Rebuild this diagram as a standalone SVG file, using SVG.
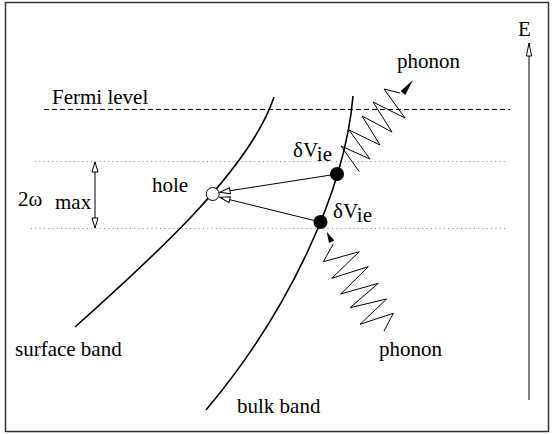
<svg xmlns="http://www.w3.org/2000/svg" width="553" height="434" viewBox="0 0 553 434" font-family="'Liberation Serif', 'Times New Roman', serif" font-size="21">
<style>
  text { font-family: 'Liberation Serif', 'Times New Roman', serif; font-size: 21px; fill: #000; }
  .band { fill: none; stroke: #000; stroke-width: 1.6; }
  .thin { fill: none; stroke: #000; stroke-width: 1; }
  .dot { fill: none; stroke: #8a8a8a; stroke-width: 1; stroke-dasharray: 1 3.3; }
  .dash { fill: none; stroke: #000; stroke-width: 1.2; stroke-dasharray: 5 3; }
</style>
<defs>
  <marker id="open" markerUnits="userSpaceOnUse" markerWidth="14" markerHeight="10" refX="11" refY="5" orient="auto-start-reverse" viewBox="0 0 14 10">
    <path d="M1,2 L11,5 L1,8 Z" fill="#fff" stroke="#000" stroke-width="1"/>
  </marker>
  <marker id="openE" markerUnits="userSpaceOnUse" markerWidth="16" markerHeight="10" refX="14" refY="5" orient="auto" viewBox="0 0 16 10">
    <path d="M1,2.4 L14,5 L1,7.6 Z" fill="#fff" stroke="#000" stroke-width="1"/>
  </marker>
</defs>
<rect x="5.5" y="2.5" width="543" height="429" fill="#fff" stroke="#333" stroke-width="1.5"/>

<g id="fermi-level">
  <line class="dash" x1="44" y1="109.5" x2="510" y2="109.5"/>
  <text x="52" y="104">Fermi level</text>
</g>
<g id="levels">
  <line class="dot" x1="35" y1="161.5" x2="505" y2="161.5"/>
  <line class="dot" x1="31" y1="228.5" x2="505" y2="228.5"/>
</g>
<g id="surface-band">
  <path class="band" d="M274,97 C250,170 150,260 75,327"/>
  <text x="15" y="356">surface band</text>
</g>
<g id="bulk-band">
  <path class="band" d="M353,96 C345,190 290,310 206,410"/>
  <text x="237" y="413">bulk band</text>
</g>
<g id="energy-axis">
  <line class="thin" x1="529" y1="400" x2="529" y2="43" stroke-width="1.4" marker-end="url(#openE)"/>
  <text x="518" y="36">E</text>
</g>
<g id="two-omega-max">
  <line class="thin" x1="95" y1="162" x2="95" y2="228" marker-start="url(#open)" marker-end="url(#open)"/>
  <text x="18" y="206">2ω</text>
  <text x="55" y="209">max</text>
</g>
<g id="phonon-top">
  <polyline class="thin" points="359.3,171.7 341,146 370,159 349,130 380,145 362,116 392,132 373,102 405,118 384,89 400,93"/>
  <polygon points="413,80 405.3,95 400.7,91" fill="#000"/>
  <text x="397" y="68">phonon</text>
</g>
<g id="phonon-bottom">
  <polygon points="326.7,231.7 334.4,240.4 329,243" fill="#000"/>
  <polyline class="thin" points="333.3,244 323.3,261.7 359.3,251.7 331.7,278.3 368.3,266.7 340.7,294 378.3,283.3 350,307.7 386.7,299 360,324.3 393.3,313.3 384,331"/>
  <text x="379" y="356">phonon</text>
</g>
<g id="connectors">
  <line class="thin" x1="331" y1="175" x2="220" y2="192.3" marker-end="url(#open)"/>
  <line class="thin" x1="315" y1="220.7" x2="220" y2="197.3" marker-end="url(#open)"/>
</g>
<g id="hole">
  <circle cx="212.7" cy="194" r="6.5" fill="#fff" stroke="#000" stroke-width="1"/>
  <text x="152" y="192">hole</text>
</g>
<g id="electron-1">
  <circle cx="337" cy="174" r="7" fill="#000"/>
  <text x="293" y="157">δV<tspan dy="4">ie</tspan></text>
</g>
<g id="electron-2">
  <circle cx="320.5" cy="222" r="7" fill="#000"/>
  <text x="333" y="218">δV<tspan dy="4">ie</tspan></text>
</g>
</svg>
